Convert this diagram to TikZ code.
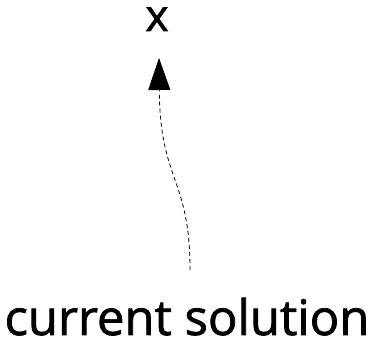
\documentclass[tikz,border=0pt]{standalone}
\usepackage{fontspec}
\setmainfont{Open Sans}[FakeBold=1.5]
\usetikzlibrary{arrows.meta}
\begin{document}
\begin{tikzpicture}[x=1pt,y=1pt,
  lbl/.style={inner sep=0pt, anchor=base},
  conn/.style={line width=0.8pt, dash pattern=on 4pt off 3pt, -{Triangle[length=32pt,width=22pt]}}]
\useasboundingbox (0,0) rectangle (375,347);
\node[lbl, font=\fontsize{49}{56}\selectfont] (sol) at (187,12) {current solution};
\node[lbl, font=\fontsize{44}{50}\selectfont] (x) at (157,316) {x};
\coordinate (s) at (190,77);
\coordinate (t) at (159,289);
\draw[conn] (s) .. controls (190,170) and (160,165) .. (t);
\end{tikzpicture}
\end{document}
